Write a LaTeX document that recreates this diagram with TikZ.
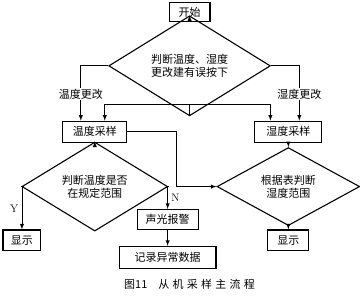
\documentclass[tikz,border=0pt]{standalone}
\usepackage{fontspec}
\usepackage{tikz}
\usetikzlibrary{shapes.geometric, arrows}
\newfontfamily\cjk{Noto Sans CJK SC}
\newfontfamily\cjkwide[LetterSpace=30]{Noto Sans CJK SC}

\begin{document}
\begin{tikzpicture}[x=1pt, y=1pt, >=latex,
			process/.style={draw, rectangle, line width=1.1pt, minimum height=21pt, inner sep=1pt, font=\cjk\fontsize{11}{13}\selectfont},
			decision/.style={draw, diamond, line width=1.1pt, inner sep=0pt, align=center, font=\cjk\fontsize{11}{13}\selectfont},
			flow/.style={line width=0.9pt, black, ->},
			tag/.style={font=\cjk\fontsize{11}{13}\selectfont, fill=white, inner sep=1pt}
			]
			\fill[white] (0,0) rectangle (360,300);
			
			\node [process, minimum width=41pt, minimum height=19pt](st) at (190,288) {开始};
			\node [decision, minimum width=162pt, minimum height=49pt](d1)[below of=st, node distance=54pt] {判断温度、湿度\\更改建有误按下};
			
			\node [process, minimum width=64pt](p1) at (95,168) {温度采样};
			\node [process, minimum width=67pt](p2) at (289,168) {湿度采样};
			
			\node [decision, minimum width=146pt, minimum height=50pt](d2)[below of=p1, node distance=55pt] {判断温度是否\\在规定范围};
			\node [decision, minimum width=143pt, minimum height=49pt](d3)[below of=p2, node distance=55pt] {根据表判断\\湿度范围};
			
			\node [process, minimum width=38pt](y1)[below of=d2, node distance=54pt, xshift=-73pt] {显示};
			\node [process, minimum width=61pt, minimum height=20pt](n1)[below of=d2, node distance=33pt, xshift=73pt] {声光报警};
			\node [process, minimum width=97pt, minimum height=22pt](r1)[below of=n1, node distance=38pt] {记录异常数据};
			\node [process, minimum width=41pt](y2)[below of=d3, node distance=54pt] {显示};
			
			\node (cap) at (190,15) {\fontsize{11}{13}\selectfont\cjk 图11\quad\cjkwide 从机采样主流程};
			
			\coordinate [below of=d1, node distance=39pt] (c1);
			
			\draw[flow] (st) -- (d1);
			\draw[flow] (d1.west) -| ([xshift=-14pt]p1.north) node[tag, pos=0.76] {温度更改};
			\draw[flow] (d1.east) -| ([xshift=11pt]p2.north) node[tag, pos=0.76] {湿度更改};
			\draw[flow] (d1.south) -- (c1) -| ([xshift=10pt]p1.north);
			\draw[flow] (c1) -| ([xshift=-18pt]p2.north);
			
			\draw[flow] (p1) -- (d2);
			\draw[flow] (p2) -- (d3);
			\draw[flow] (p1.east) -- ++(49pt,0) |- (d3.west);
			
			\draw[flow] (d2.west) -| (y1.north) node[pos=0.76, left] {\fontsize{11}{13}\selectfont Y};
			\draw[flow] (d2.east) -| (n1.north) node[pos=0.76, right] {\fontsize{11}{13}\selectfont N};
			\draw[flow] (n1) -- (r1);
			\draw[flow] (d3) -- (y2);
		\end{tikzpicture}
\end{document}
